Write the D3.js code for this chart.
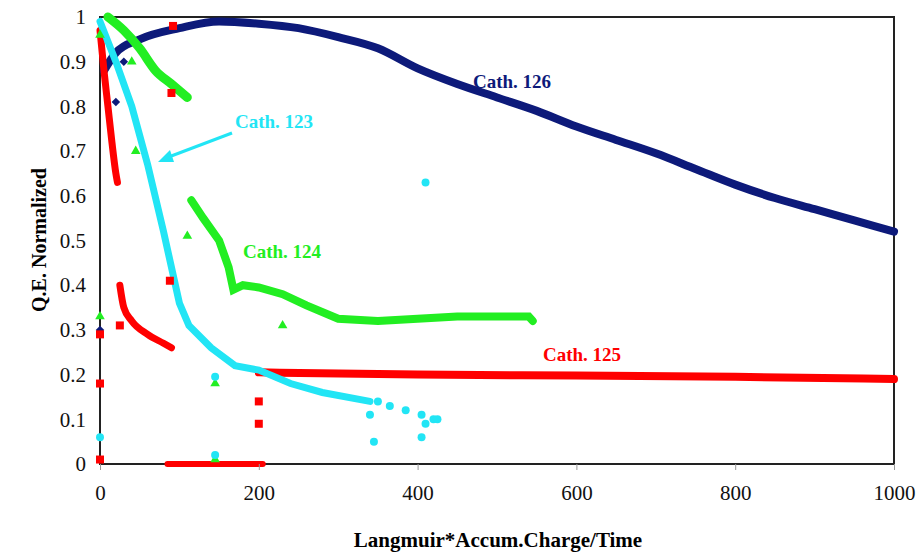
<!DOCTYPE html>
<html><head><meta charset="utf-8">
<script src="https://cdn.jsdelivr.net/npm/d3@7"></script>
<style>body{margin:0;background:#fff} svg text{font-family:'Liberation Serif','DejaVu Serif',serif !important}</style>
</head><body>
<svg id="c" width="920" height="553"></svg>
<script>
// curve key points [x, y]
const cath126 = [[5,0.88],[20,0.92],[50,0.95],[100,0.975],[150,0.99],[200,0.985],[250,0.975],[300,0.955],[350,0.93],[400,0.885],[450,0.85],[500,0.82],[550,0.79],[600,0.755],[650,0.725],[700,0.695],[750,0.66],[800,0.625],[850,0.595],[900,0.57],[950,0.545],[1000,0.52]];
const cath125a = [[0,0.97],[5,0.88],[10,0.80],[15,0.72],[20,0.65],[22,0.63]];
const cath125b = [[25,0.40],[30,0.35],[40,0.32],[60,0.29],[80,0.27],[90,0.26]];
const cath125c = [[200,0.205],[400,0.2],[600,0.198],[800,0.195],[1000,0.19]];
const cath125z = [[85,0.0],[205,0.0]];
const cath124a = [[10,1.0],[30,0.97],[50,0.93],[70,0.88],[90,0.85],[110,0.82]];
const cath124b = [[115,0.59],[130,0.55],[150,0.50],[162,0.44],[168,0.39],[180,0.40],[200,0.395],[230,0.38],[260,0.355],[300,0.325],[350,0.32],[400,0.325],[450,0.33],[540,0.33],[545,0.32]];
const cath123 = [[0,0.99],[20,0.9],[40,0.80],[60,0.67],[80,0.52],[100,0.36],[112,0.31],[140,0.26],[170,0.22],[200,0.21],[240,0.18],[280,0.16],[340,0.14]];
const pts126 = [[20,0.81],[30,0.90],[0,0.30]];
const pts125 = [[0,0.29],[0,0.18],[0,0.01],[25,0.31],[88,0.41],[90,0.83],[92,0.98],[200,0.14],[200,0.09]];
const pts124 = [[0,0.33],[0,0.96],[40,0.90],[45,0.70],[110,0.51],[145,0.18],[145,0.01],[230,0.31]];
const pts123 = [[0,0.06],[145,0.195],[145,0.02],[340,0.11],[345,0.05],[350,0.14],[365,0.13],[385,0.12],[405,0.11],[405,0.06],[410,0.63],[410,0.09],[420,0.1],[425,0.1]];
const xTicks = [0,200,400,600,800,1000];
const yTicks = [0,0.1,0.2,0.3,0.4,0.5,0.6,0.7,0.8,0.9,1];

const svg = d3.select("#c");
const x = d3.scaleLinear().domain([0,1000]).range([100,894]);
const y = d3.scaleLinear().domain([0,1]).range([464,17]);
const navy="#0d1a7a", red="#ff0000", green="#22ee22", cyan="#22e5f5";

svg.append("rect").attr("x",100).attr("y",17).attr("width",794).attr("height",447)
  .attr("fill","none").attr("stroke","#222").attr("stroke-width",2);

const line = d3.line().x(d=>x(d[0])).y(d=>y(d[1])).curve(d3.curveMonotoneX);
const lineL = d3.line().x(d=>x(d[0])).y(d=>y(d[1]));
function thick(data,color,w,gen){
  svg.append("path").datum(data).attr("d",gen||line).attr("fill","none")
    .attr("stroke",color).attr("stroke-width",w).attr("stroke-linecap","round");
}
thick(cath126,navy,8);
thick(cath125a,red,7);thick(cath125b,red,7);thick(cath125c,red,8);thick(cath125z,red,6);
thick(cath124a,green,9);thick(cath124b,green,8,lineL);
thick(cath123,cyan,7,lineL);

svg.selectAll(".p126").data(pts126).join("rect").attr("x",d=>x(d[0])-3).attr("y",d=>y(d[1])-3)
  .attr("width",6).attr("height",6).attr("fill",navy).attr("transform",d=>`rotate(45,${x(d[0])},${y(d[1])})`);
svg.selectAll(".p125").data(pts125).join("rect").attr("x",d=>x(d[0])-4).attr("y",d=>y(d[1])-4)
  .attr("width",8).attr("height",8).attr("fill",red);
svg.selectAll(".p124").data(pts124).join("path")
  .attr("d",d3.symbol(d3.symbolTriangle,40)).attr("transform",d=>`translate(${x(d[0])},${y(d[1])})`).attr("fill",green);
svg.selectAll(".p123").data(pts123).join("circle").attr("cx",d=>x(d[0])).attr("cy",d=>y(d[1]))
  .attr("r",4).attr("fill",cyan);

const xa = svg.append("g").attr("transform","translate(0,464)")
  .call(d3.axisBottom(x).tickValues(xTicks).tickSize(6).tickFormat(d3.format("d")));
const ya = svg.append("g").attr("transform","translate(100,0)")
  .call(d3.axisLeft(y).tickValues(yTicks).tickSize(0).tickPadding(14).tickFormat(d=>d===0||d===1?d:d3.format(".1f")(d)));
[xa,ya].forEach(a=>{a.select(".domain").remove();a.selectAll("text").attr("font-size",21).attr("fill","#111");a.selectAll("line").attr("stroke","#999");});
xa.selectAll("text").attr("dy","1.3em");

svg.append("text").attr("x",498).attr("y",547).attr("text-anchor","middle").attr("font-size",21)
  .attr("font-weight","bold").text("Langmuir*Accum.Charge/Time");
svg.append("text").attr("transform","translate(46,240) rotate(-90)").attr("text-anchor","middle")
  .attr("font-size",20).attr("font-weight","bold").text("Q.E. Normalized");

const labels=[["Cath. 126",473,88,navy],["Cath. 123",235,128,cyan],["Cath. 124",243,258,green],["Cath. 125",543,361,red]];
labels.forEach(l=>svg.append("text").attr("x",l[1]).attr("y",l[2]).attr("font-size",19)
  .attr("font-weight","bold").attr("fill",l[3]).text(l[0]));
svg.append("line").attr("x1",232).attr("y1",133).attr("x2",166).attr("y2",158).attr("stroke",cyan).attr("stroke-width",3);
svg.append("path").attr("d","M158,162 L170,150 L174,162 Z").attr("fill",cyan);
</script>
</body></html>
